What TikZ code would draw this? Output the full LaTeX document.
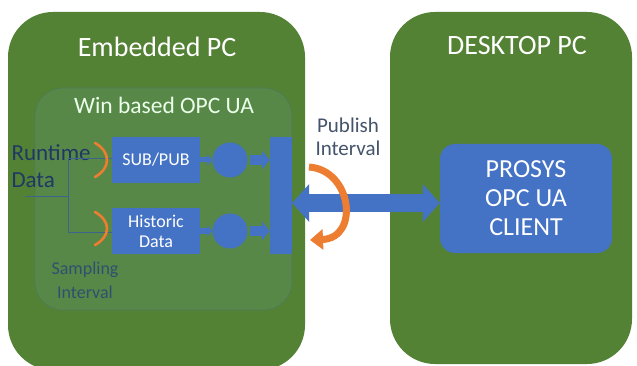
\documentclass[tikz,border=0pt]{standalone}
\usepackage{fontspec}
\setmainfont{Carlito}
\usetikzlibrary{arrows.meta,calc}
\definecolor{pcgreen}{HTML}{548235}
\definecolor{innergreen}{RGB}{88,136,72}
\definecolor{inneredge}{RGB}{78,122,90}
\definecolor{boxblue}{HTML}{4472C4}
\definecolor{orng}{HTML}{ED7D31}
\definecolor{darktext}{HTML}{1F3864}
\definecolor{slatetext}{HTML}{2F5070}
\definecolor{pubtext}{HTML}{44546A}
\definecolor{linecol}{RGB}{60,100,140}
\tikzset{
  pcbox/.style={fill=pcgreen, draw=none, rounded corners=45pt},
  bluebox/.style={fill=boxblue, draw=none, inner sep=0pt, text=white, align=center,
    font=\fontsize{18}{20}\selectfont},
  dot/.style={circle, fill=boxblue, inner sep=0pt, minimum size=35pt},
  blockarrow/.style={draw=boxblue, line width=10pt, -{Triangle[length=8pt,width=19pt]}},
  tinyarrow/.style={draw=boxblue, line width=5pt, -{Triangle[length=5pt,width=11pt]}},
  thinline/.style={draw=linecol, line width=0.9pt},
  orangearc/.style={draw=orng, line width=2.6pt, line cap=round},
}
\begin{document}
\begin{tikzpicture}[x=1pt,y=-1pt]
\useasboundingbox (0,0) rectangle (637,366);
\fill[white] (0,0) rectangle (637,366);
% big PC boxes
\path[pcbox] (8,12) rectangle (305,370);
\path[pcbox] (390,12) rectangle (632,364);
\node[text=white, font=\fontsize{28}{30}\selectfont] (emb) at (157,47) {Embedded PC};
\node[text=white, font=\fontsize{28}{30}\selectfont] (desk) at (517,46) {DESKTOP PC};
% inner OPC UA area
\path[fill=innergreen, draw=inneredge, line width=0.6pt, rounded corners=28pt] (35,88) rectangle (292,310);
\node[text=white!92!green, font=\fontsize{23.5}{25}\selectfont] (win) at (164,105) {Win based OPC UA};
% blocks
\node[bluebox, minimum width=88pt, minimum height=46pt] (sub) at (156,160) {SUB/PUB};
\node[bluebox, minimum width=88pt, minimum height=46pt] (hist) at (156,231) {Historic\\Data};
\node[dot] (c1) at (230,160) {};
\node[dot] (c2) at (230,231) {};
\node[fill=boxblue, inner sep=0pt, minimum width=22pt, minimum height=117pt] (bar) at (281,195.5) {};
\node[fill=boxblue, rounded corners=15pt, inner sep=0pt, minimum width=172pt, minimum height=109pt,
  text=white, align=center, font=\fontsize{26}{29}\selectfont] (client) at (526,198.5) {PROSYS\\OPC UA\\CLIENT};
% small arrows
\draw[tinyarrow] (sub.east) -- (c1.west);
\draw[tinyarrow] (hist.east) -- (c2.west);
\draw[blockarrow] ($(c1.east)+(2,0)$) -- (bar.west |- c1.east);
\draw[blockarrow] ($(c2.east)+(2,0)$) -- (bar.west |- c2.east);
% runtime data lines
\node[text=darktext, align=left, anchor=west, font=\fontsize{23}{27}\selectfont] (rt) at (8,166) {Runtime\\Data};
\coordinate (j0) at (25,196);
\coordinate (j1) at (68,196);
\coordinate (jt) at (68,158);
\coordinate (jb) at (68,232);
\draw[thinline] (j0) -- (j1);
\draw[thinline] (jt) -- (jb);
\draw[thinline] (jt) -- (sub.west |- jt);
\draw[thinline] (jb) -- (hist.west |- jb);
% sampling arcs
\draw[orangearc] (95,143) .. controls (111,152) and (111,168) .. (95,177);
\draw[orangearc] (95,212) .. controls (111,221) and (111,236) .. (95,245);
\node[text=slatetext, align=center, font=\fontsize{18}{24}\selectfont] (samp) at (85,280) {Sampling\\Interval};
% main double arrow
\coordinate (ay) at (0,203);
\draw[draw=boxblue, line width=18pt,
  {Triangle[length=17pt,width=37pt]}-{Triangle[length=17pt,width=37pt]}]
  (bar.east |- ay) -- (client.west |- ay);
% publish interval
\node[text=pubtext, align=center, font=\fontsize{21}{23}\selectfont] (pub) at (348,137) {Publish\\Interval};
\coordinate (ot) at (309,167);
\coordinate (oh) at (310,240);
\draw[draw=orng, line width=7pt, -{Triangle[length=13pt,width=20pt]}]
  (ot) .. controls (352,170) and (360,238) .. (oh);
\end{tikzpicture}
\end{document}
